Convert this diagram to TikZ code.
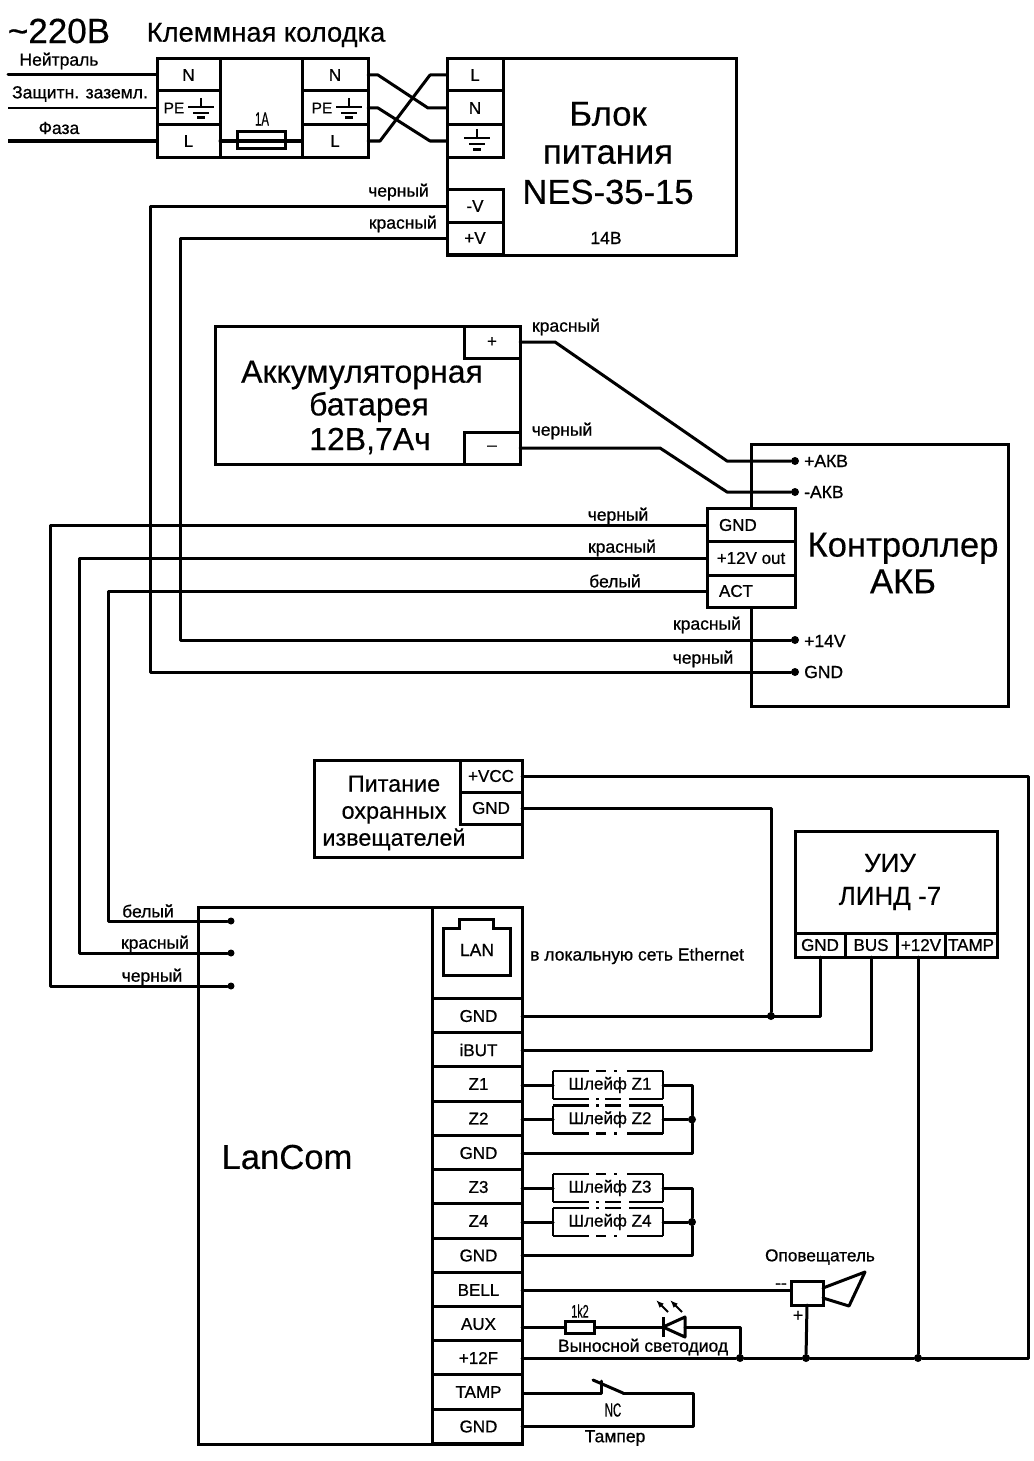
\documentclass[tikz,border=0pt]{standalone}
\usepackage{fontspec}
\setmainfont[FakeBold=0.4]{Liberation Sans}
\newfontfamily\narrowfont[FakeStretch=0.6,FakeBold=0.4]{Liberation Sans}
\newfontfamily\heavyfont[FakeBold=0.8]{Liberation Sans}
\usetikzlibrary{arrows.meta}
\newcommand{\fs}[1]{\fontsize{#1}{#1}\selectfont}
\tikzset{
  cell/.style={draw,fill=white,line width=3pt,inner sep=0,outer sep=0,align=center,font=\heavyfont\fs{17}},
  wire/.style={line width=3pt,line cap=round,line join=round},
  tag/.style={inner sep=0,yshift=-1pt,font=\heavyfont\fs{17.5}},
  bigtext/.style={inner sep=0,align=center,font=\fs{34.6}},
  junction/.style={circle,fill=black,inner sep=0,minimum size=8pt},
  partbox/.style={draw,line width=3pt,inner sep=0,outer sep=0},
  loopbox/.style={inner sep=0,outer sep=0,minimum width=110pt,minimum height=28pt,font=\heavyfont\fs{17}},
  loopa/.style={line width=2.4pt,dash pattern=on 36pt off 7pt on 10pt off 8pt on 3pt off 10pt on 36pt},
  loopb/.style={line width=2.4pt,dash pattern=on 36pt off 7pt on 3pt off 6pt on 16pt off 8pt on 36pt},
  gndsym/.pic={
    \draw[line width=2.5pt] (0,-9) -- (0,0) (-13,0) -- (13,0);
    \draw[line width=2.5pt] (-8,6) -- (8,6);
    \draw[line width=3pt] (-4,11) -- (4,11);
  }
}
\begin{document}
\begin{tikzpicture}[x=1pt,y=-1pt]
  \useasboundingbox (0,0) rectangle (1033,1461);

  \node[inner sep=0,font=\fs{35}] (mains) at (59,31) {\textasciitilde 220В};
  \node[inner sep=0,font=\fs{27.3}] (blocktitle) at (266,35) {Клеммная колодка};
  \node[tag] (tagn) at (59,60) {Нейтраль};
  \node[tag] (tagpe) at (80,93) {Защитн. заземл.};
  \node[tag] (tagl) at (59,127) {Фаза};
  \coordinate (inn) at (8,75);
  \coordinate (inpe) at (8,108);
  \coordinate (inl) at (8,141);

  \node[cell,minimum width=211pt,minimum height=98pt] (block) at (262.5,108) {};
  \foreach \name/\lbl/\x/\y/\h in {ln/N/188.5/75/32,lpe//188.5/108/34,ll/L/188.5/141/32,rn/N/335/75/32,rpe//335/108/34,rl/L/335/141/32}
    \node[cell,minimum width={\x==188.5 ? 63pt : 66pt},minimum height=\h pt] (\name) at (\x,\y) {\lbl};
  \node[inner sep=0,font=\heavyfont\fs{15.5}] (lpetxt) at (174,108) {PE};
  \node[inner sep=0,font=\heavyfont\fs{15.5}] (rpetxt) at (322,108) {PE};
  \pic at (201,107) {gndsym};
  \pic at (349,107) {gndsym};
  \node[partbox,minimum width=48pt,minimum height=17pt] (fuse) at (261,140) {};
  \node[inner sep=0,font=\narrowfont\fs{19}] (fusetxt) at (262,119) {1A};
  \draw[wire] (inn) -- (ln.west);
  \draw[line width=2.2pt] (inpe) -- (lpe.west);
  \draw[line width=3.8pt] (inl) -- (ll.west);
  \draw[wire] (ll.east) -- (rl.west);

  \node[cell,minimum width=289pt,minimum height=196pt] (psu) at (591.5,157) {};
  \foreach \name/\lbl/\y/\h in {pl/L/75/32,pn/N/108/34,pe//141/32,pvm/-V/206/33,pvp/+V/238/32}
    \node[cell,minimum width=56pt,minimum height=\h pt] (\name) at (475,\y) {\lbl};
  \pic at (477,138) {gndsym};
  \node[bigtext] (psutxt) at (608,153) {Блок\\[3.5pt]питания\\[5.5pt]NES-35-15};
  \node[tag] (psuv) at (606,237) {14В};
  \draw[wire] (rn.east) -- ++(10,0) -- (428,108) -- (pn.west);
  \draw[wire] (rpe.east) -- ++(10,0) -- (430,141) -- (pe.west);
  \draw[wire] (rl.east) -- ++(12,0) -- (430,75) -- (pl.west);
  \node[tag,anchor=east] (tagvm) at (429,191) {черный};
  \node[tag,anchor=east] (tagvp) at (437,223) {красный};

  \node[cell,minimum width=305pt,minimum height=138pt] (batt) at (367.5,395) {};
  \node[cell,minimum width=56pt,minimum height=32pt] (bplus) at (492,342) {+};
  \node[cell,minimum width=56pt,minimum height=32pt] (bminus) at (492,448) {\textendash};
  \node[inner sep=0,font=\fs{32}] (batta) at (362,375) {Аккумуляторная};
  \node[inner sep=0,font=\fs{32}] (battb) at (369,407) {батарея};
  \node[inner sep=0,font=\fs{32}] (battc) at (370,441) {12В,7Ач};
  \node[tag] (tagbp) at (566,326) {красный};
  \node[tag] (tagbm) at (562,430) {черный};

  \node[cell,minimum width=257pt,minimum height=262pt] (ctrl) at (879.5,575) {};
  \node[cell,minimum width=88pt,minimum height=33pt,text width=64pt,align=left] (cgnd) at (751,525) {GND};
  \node[cell,minimum width=88pt,minimum height=34pt] (cout) at (751,558) {+12V out};
  \node[cell,minimum width=88pt,minimum height=32pt,text width=64pt,align=left] (cact) at (751,591) {ACT};
  \node[bigtext] (ctrltxt) at (903,563) {Контроллер\\[2pt]АКБ};
  \foreach \name/\lbl/\y/\ty in {cap/+АКВ/461/460,cam/-АКВ/492/491,cv/+14V/640/640,cg/GND/672/671}{
    \node[junction] (\name) at (795,\y) {};
    \node[tag,anchor=west] (\name txt) at (804,\ty) {\lbl};
  }
  \draw[wire] (bplus.east) -- ++(35,0) -- (727,461) -- (cap);
  \draw[wire] (bminus.east) -- ++(140,0) -- (727,492) -- (cam);
  \draw[wire] (pvp.west) -| (180,400) |- (cv);
  \draw[wire] (pvm.west) -| (150,400) |- (cg);
  \node[tag] (tagcv) at (707,624) {красный};
  \node[tag] (tagcg) at (703,658) {черный};
  \node[tag] (tagcg2) at (618,515) {черный};
  \node[tag] (tagco) at (622,547) {красный};
  \node[tag] (tagca) at (615,580) {белый};

  \node[cell,minimum width=324pt,minimum height=537pt] (lancom) at (360,1175.5) {};
  \node[inner sep=0,font=\fs{34.6}] (lancomtxt) at (287,1157) {LanCom};
  \node[cell,minimum width=90pt,minimum height=92pt] (lanport) at (477,953) {};
  \draw[line width=3pt] (443,928) -- (459,928) -- (459,919) -- (493,919) -- (493,928) -- (510,928) -- (510,975) -- (443,975) -- cycle;
  \node[tag] (lantxt) at (477,949) {LAN};
  \node[tag,anchor=west] (ethtxt) at (530,955) {в локальную сеть Ethernet};
  \foreach \name/\lbl/\y in {lgnda/GND/1016,libut/iBUT/1050,lza/Z1/1084,lzb/Z2/1118.5,lgndb/GND/1153,lzc/Z3/1187,lzd/Z4/1221,lgndc/GND/1255.5,lbell/BELL/1290,laux/AUX/1324,lpf/+12F/1358,ltamp/TAMP/1392,lgndd/GND/1426.5}
    \node[cell,minimum width=90pt,minimum height=34.2pt] (\name) at (477,\y) {\hspace*{3pt}\lbl};
  \foreach \name/\y in {lwa/921,lwb/953,lwc/986}
    \node[junction,minimum size=7pt] (\name) at (231,\y) {};
  \draw[wire] (cact.west) -| (108,800) |- (lwa);
  \draw[wire] (cout.west) -| (79,800) |- (lwb);
  \draw[wire] (cgnd.west) -| (50,800) |- (lwc);
  \node[tag] (tagla) at (148,910) {белый};
  \node[tag] (taglb) at (155,943) {красный};
  \node[tag] (taglc) at (152,976) {черный};

  \node[cell,minimum width=208pt,minimum height=97pt] (sens) at (418,808.5) {};
  \node[cell,minimum width=62pt,minimum height=32pt] (svcc) at (491,776) {+VCC};
  \node[cell,minimum width=62pt,minimum height=32pt] (sgnd) at (491,808) {GND};
  \node[inner sep=0,align=center,font=\fs{23.4}] (senstxt) at (394,813) {Питание\\[3.6pt]охранных\\[3.6pt]извещателей};

  \node[cell,minimum width=202pt,minimum height=126pt] (uiu) at (896,894) {};
  \node[inner sep=0,align=center,font=\fs{26}] (uiutxt) at (890,882) {УИУ\\[7pt]ЛИНД -7};
  \foreach \name/\lbl/\x/\w in {ugnd/GND/820/50,ubus/BUS/871/52,uv/+12V/921/48,utamp/TAMP/971/52}
    \node[cell,minimum width=\w pt,minimum height=24pt] (\name) at (\x,945) {\lbl};

  \node[junction] (jgnd) at (771,1016) {};
  \node[junction] (jlat) at (740,1358) {};
  \node[junction] (jsnd) at (806,1358) {};
  \node[junction] (juiu) at (918,1358) {};
  \draw[wire] (sgnd.east) -| (jgnd);
  \draw[wire] (lgnda.east) -| (ugnd.south);
  \draw[wire] (libut.east) -| (ubus.south);
  \draw[wire] (lpf.east) -- (jlat) -- (jsnd) -- (juiu) -- (1028,1358) -- (1028,776) -- (svcc.east);
  \draw[wire] (juiu) -- (juiu |- uv.south);

  \foreach \name/\lbl/\y/\ta/\tb in {sa/Z1/1085/loopa/loopb,sb/Z2/1119.5/loopb/loopa,sc/Z3/1188/loopa/loopb,sd/Z4/1222/loopb/loopa}{
    \node[loopbox] (\name) at (608,\y) {\hspace*{4pt}Шлейф \lbl};
    \draw[line width=2.4pt] (\name.north west) -- (\name.south west) (\name.north east) -- (\name.south east);
    \draw[\ta] (\name.north west) -- (\name.north east);
    \draw[\tb] (\name.south west) -- (\name.south east);
  }
  \node[junction] (jsa) at (692,1119.5) {};
  \node[junction] (jsb) at (692,1222) {};
  \draw[wire] (lza.east |- sa.west) -- (sa.west);
  \draw[wire] (lzb.east |- sb.west) -- (sb.west);
  \draw[wire] (lzc.east |- sc.west) -- (sc.west);
  \draw[wire] (lzd.east |- sd.west) -- (sd.west);
  \draw[wire] (sa.east) -| (jsa);
  \draw[wire] (sb.east) -- (jsa);
  \draw[wire] (lgndb.east) -| (jsa);
  \draw[wire] (sc.east) -| (jsb);
  \draw[wire] (sd.east) -- (jsb);
  \draw[wire] (lgndc.east) -| (jsb);

  \node[partbox,minimum width=32pt,minimum height=24pt] (horn) at (807,1293) {};
  \draw[wire] (horn.east) ++(0,-5) -- (865,1272) -- (849,1306) -- (823,1298);
  \node[inner sep=0,font=\heavyfont\fs{17.2}] (horntxt) at (820,1257) {Оповещатель};
  \node[tag] (hornm) at (781,1285) {{-}{-}};
  \node[tag] (hornp) at (798,1315) {+};
  \draw[wire] (lbell.east) -- (lbell.east -| horn.west);
  \draw[wire] (horn.south) -- (jsnd);

  \node[partbox,minimum width=29pt,minimum height=12pt] (res) at (580,1327) {};
  \node[inner sep=0,font=\narrowfont\fs{18}] (restxt) at (580,1311) {1k2};
  \coordinate (ledk) at (663,1327);
  \coordinate (leda) at (685,1327);
  \draw[line width=3pt] (663,1317) -- (663,1337);
  \draw[line width=3pt,line join=round] (ledk) -- (685,1317) -- (685,1337) -- cycle;
  \draw[-{Latex[length=8pt,width=6pt]},line width=2pt] (668,1312) -- (656,1300);
  \draw[-{Latex[length=8pt,width=6pt]},line width=2pt] (682,1312) -- (670,1300);
  \node[tag] (ledtxt) at (643,1346) {Выносной светодиод};
  \draw[wire] (laux.east |- res.west) -- (res.west);
  \draw[wire] (res.east) -- (ledk);
  \draw[wire] (leda) -| (jlat);

  \coordinate (swa) at (601,1393);
  \coordinate (swb) at (623,1393);
  \draw[wire] (ltamp.east) -- (ltamp.east |- swa) -- (swa) -- (601,1381);
  \draw[wire] (593,1380) -- (swb);
  \draw[wire] (swb) -- (693,1393) |- (lgndd.east);
  \node[inner sep=0,font=\narrowfont\fs{19}] (swtxt) at (613,1410) {NC};
  \node[tag] (swname) at (615,1437) {Тампер};
\end{tikzpicture}
\end{document}
